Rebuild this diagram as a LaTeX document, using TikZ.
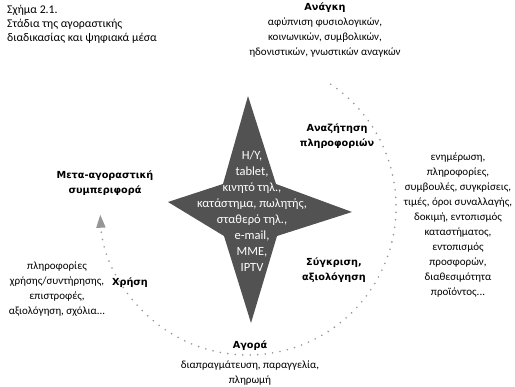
\documentclass[tikz,border=0pt]{standalone}
\usepackage{fontspec}
\setmainfont{Carlito}
\newfontfamily\labelfont{DejaVu Sans}
\usetikzlibrary{arrows.meta}
\definecolor{stargray}{RGB}{82,82,82}
\definecolor{dotgray}{RGB}{150,150,150}

\begin{document}
\begin{tikzpicture}[x=1pt,y=1pt,
  every node/.style={align=center,inner sep=0pt,font=\fontsize{11}{15}\selectfont},
  stage/.style={font=\labelfont\fontsize{9.7}{15}\selectfont\bfseries}]
\useasboundingbox (0,0) rectangle (515,387);

\fill[stargray] (248,291) -- (276,203) -- (352,175) -- (277,151) -- (251,64)
  -- (224,151) -- (168,185) -- (223,203) -- cycle;
\node[text=white,font=\fontsize{12.5}{16}\selectfont] (media) at (252,176)
  {H/Y,\\tablet,\\κινητό τηλ.,\\κατάστημα, πωλητής,\\σταθερό τηλ.,\\e-mail,\\MME,\\IPTV};

\draw[dotgray,line width=1.8pt,line cap=round,dash pattern=on 0pt off 7.5pt,
  -{Triangle[length=13pt,width=9pt]}]
  (330.8,302.7) arc[start angle=56,end angle=-177,radius=148];

\node[anchor=north west,align=left,font=\fontsize{11.8}{14.5}\selectfont] (title) at (7,382.5)
  {Σχήμα 2.1.\\Στάδια της αγοραστικής\\διαδικασίας και ψηφιακά μέσα};

\node[stage] (need) at (325,379) {Ανάγκη};
\node (needtxt) at (325,349) {αφύπνιση φυσιολογικών,\\κοινωνικών, συμβολικών,\\ηδονιστικών, γνωστικών αναγκών};

\node[stage] (search) at (337,251) {Αναζήτηση\\πληροφοριών};
\node (searchtxt) at (458,162) {ενημέρωση,\\πληροφορίες,\\συμβουλές, συγκρίσεις,\\τιμές, όροι συναλλαγής,\\δοκιμή, εντοπισμός\\καταστήματος,\\εντοπισμός\\προσφορών,\\διαθεσιμότητα\\προϊόντος...};

\node[stage] (compare) at (334,117) {Σύγκριση,\\αξιολόγηση};

\node[stage] (buy) at (250,41) {Αγορά};
\node (buytxt) at (250,13.5) {διαπραγμάτευση, παραγγελία,\\πληρωμή};

\node[stage] (use) at (130,104) {Χρήση};
\node (usetxt) at (57,98) {πληροφορίες\\χρήσης/συντήρησης,\\επιστροφές,\\αξιολόγηση, σχόλια...};

\node[stage] (after) at (105,204) {Μετα-αγοραστική\\συμπεριφορά};
\end{tikzpicture}
\end{document}
